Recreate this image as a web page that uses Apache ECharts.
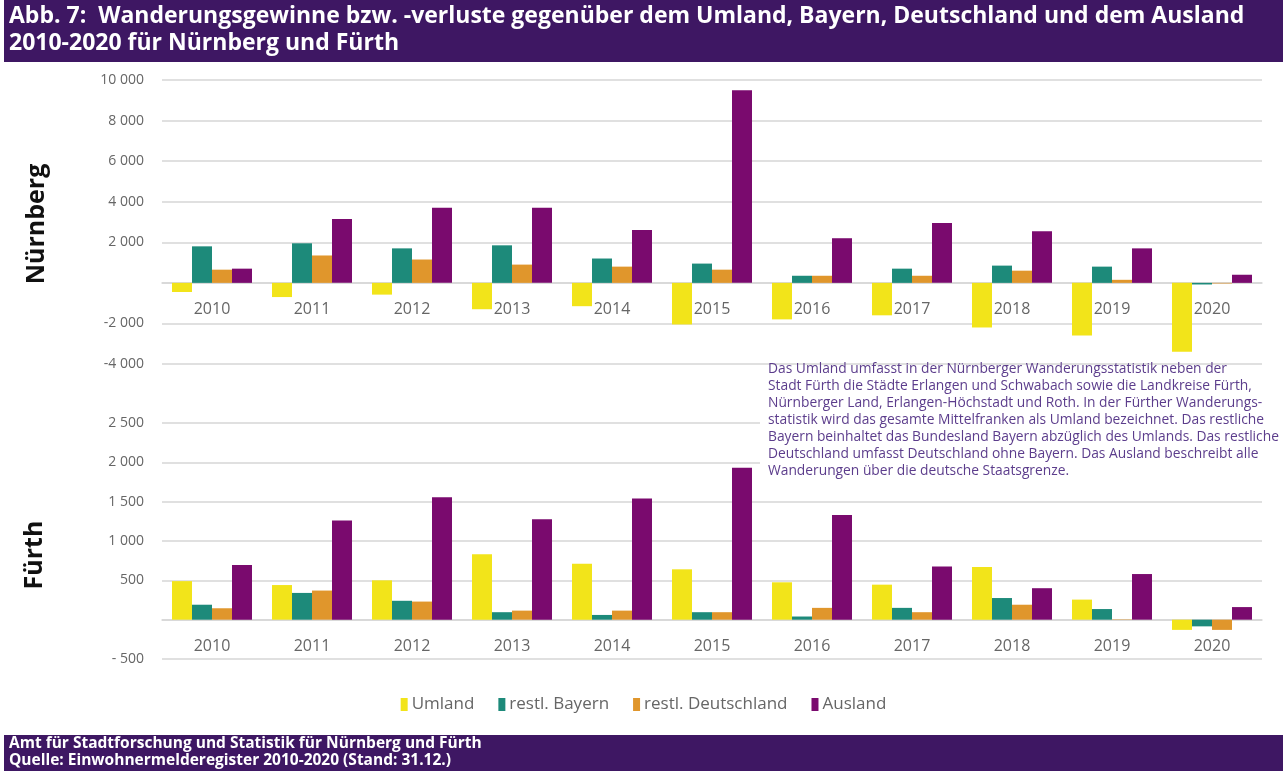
<!DOCTYPE html>
<html>
<head>
    <meta charset="utf-8">
    <title>Wanderungsgewinne</title>
    <style type="text/css">
        html,
        body {
            height: 100%;
        }

        body {
            margin: 0;
            padding: 0;
            background: #fff;
        }

        #main {
            width: 1287px;
            height: 771px;
        }
    </style>
</head>

<body>
    <div id="main"></div>
    <script src="https://cdn.jsdelivr.net/npm/echarts@6/dist/echarts.min.js"></script>
    <script type="text/javascript">
        var years = ['2010', '2011', '2012', '2013', '2014', '2015', '2016', '2017', '2018', '2019', '2020'];
        var seriesNames = ['Umland', 'restl. Bayern', 'restl. Deutschland', 'Ausland'];

        // Nürnberg
        var nbgUmland = [-450, -700, -580, -1300, -1150, -2050, -1800, -1600, -2200, -2600, -3400];
        var nbgBayern = [1800, 1950, 1700, 1850, 1200, 950, 350, 700, 850, 800, -80];
        var nbgDeutschland = [650, 1350, 1150, 900, 800, 650, 350, 350, 600, 150, -30];
        var nbgAusland = [700, 3150, 3700, 3700, 2600, 9500, 2200, 2950, 2550, 1700, 400];

        // Fürth
        var fueUmland = [490, 440, 500, 830, 710, 640, 475, 445, 670, 255, -130];
        var fueBayern = [190, 340, 240, 95, 60, 95, 40, 150, 275, 135, -85];
        var fueDeutschland = [145, 370, 230, 115, 115, 95, 150, 95, 190, 5, -130];
        var fueAusland = [695, 1260, 1555, 1275, 1540, 1930, 1330, 675, 400, 580, 160];

        var colors = ['#f2e41a', '#1d8a7a', '#e0962c', '#7a0a6e'];
        var purpleBar = '#3e1763';
        var note = 'Das Umland umfasst in der Nürnberger Wanderungsstatistik neben der\n' +
            'Stadt Fürth die Städte Erlangen und Schwabach sowie die Landkreise Fürth,\n' +
            'Nürnberger Land, Erlangen-Höchstadt und Roth. In der Fürther Wanderungs-\n' +
            'statistik wird das gesamte Mittelfranken als Umland bezeichnet. Das restliche\n' +
            'Bayern beinhaltet das Bundesland Bayern abzüglich des Umlands. Das restliche\n' +
            'Deutschland umfasst Deutschland ohne Bayern. Das Ausland beschreibt alle\n' +
            'Wanderungen über die deutsche Staatsgrenze.';

        function fmtTop(v) {
            if (v === 0) return '';
            var s = String(Math.abs(v)).replace(/\B(?=(\d{3})+(?!\d))/g, ' ');
            return (v < 0 ? '-' : '') + s;
        }

        function fmtBottom(v) {
            if (v === 0) return '';
            var s = String(Math.abs(v)).replace(/\B(?=(\d{3})+(?!\d))/g, ' ');
            return (v < 0 ? '- ' : '') + s;
        }

        var font = "'Open Sans', 'Noto Sans', sans-serif";
        var gridLine = { lineStyle: { color: '#d6d6d6', width: 1.5 } };

        // grids: top/height in px, axis ranges -> zero position used to lift the category axis
        var topGrid = { top: 80, height: 284, min: -4000, max: 10000 };
        var botGrid = { top: 423, height: 236, min: -500, max: 2500 };

        function zeroOffset(g) {
            return g.height * (-g.min) / (g.max - g.min);
        }

        function xAxis(idx, g) {
            return {
                type: 'category',
                gridIndex: idx,
                data: years,
                offset: -zeroOffset(g),
                axisLine: { onZero: false, lineStyle: { color: '#d6d6d6', width: 1.5 } },
                axisTick: { show: false },
                axisLabel: { color: '#666', fontSize: 16, fontFamily: font, margin: 19 }
            };
        }

        function yAxis(idx, g, step, fmt) {
            return {
                type: 'value',
                gridIndex: idx,
                min: g.min,
                max: g.max,
                interval: step,
                splitLine: gridLine,
                axisLine: { show: false },
                axisTick: { show: false },
                axisLabel: { color: '#666', fontSize: 14, fontFamily: font, margin: 18, formatter: fmt }
            };
        }

        function bars(names, datas, idx) {
            return datas.map(function (d, i) {
                return {
                    name: names[i],
                    type: 'bar',
                    xAxisIndex: idx,
                    yAxisIndex: idx,
                    data: d,
                    barGap: 0,
                    barCategoryGap: '20%',
                    itemStyle: { color: colors[i] }
                };
            });
        }

        var myChart = echarts.init(document.getElementById('main'));
        myChart.setOption({
            animation: false,
            textStyle: { fontFamily: font },
            legend: {
                data: seriesNames,
                left: 'center',
                top: 691,
                itemWidth: 7,
                itemHeight: 13,
                itemGap: 24,
                icon: 'rect',
                textStyle: { color: '#666', fontSize: 17, fontFamily: font, padding: [0, 0, 0, -1] }
            },
            grid: [
                { left: 162, right: 25, top: topGrid.top, height: topGrid.height },
                { left: 162, right: 25, top: botGrid.top, height: botGrid.height }
            ],
            xAxis: [xAxis(0, topGrid), xAxis(1, botGrid)],
            yAxis: [
                yAxis(0, topGrid, 2000, fmtTop),
                yAxis(1, botGrid, 500, fmtBottom)
            ],
            series: bars(seriesNames, [nbgUmland, nbgBayern, nbgDeutschland, nbgAusland], 0)
                .concat(bars(seriesNames, [fueUmland, fueBayern, fueDeutschland, fueAusland], 1)),
            graphic: [
                // header band
                { type: 'rect', left: 4, top: 0, shape: { width: 1279, height: 62 }, style: { fill: purpleBar } },
                {
                    type: 'text', left: 9, top: 3,
                    style: {
                        text: 'Abb. 7:  Wanderungsgewinne bzw. -verluste gegenüber dem Umland, Bayern, Deutschland und dem Ausland\n2010-2020 für Nürnberg und Fürth',
                        fill: '#fff', font: 'bold 23px ' + font, lineHeight: 27
                    }
                },
                // footer band
                { type: 'rect', left: 4, top: 735, shape: { width: 1279, height: 36 }, style: { fill: purpleBar } },
                {
                    type: 'text', left: 9, top: 735,
                    style: {
                        text: 'Amt für Stadtforschung und Statistik für Nürnberg und Fürth\nQuelle: Einwohnermelderegister 2010-2020 (Stand: 31.12.)',
                        fill: '#fff', font: 'bold 15.5px ' + font, lineHeight: 17
                    }
                },
                // city labels
                {
                    type: 'text', x: 37, y: 224, rotation: Math.PI / 2,
                    style: { text: 'Nürnberg', fill: '#111', font: 'bold 25px ' + font, align: 'center', verticalAlign: 'middle' }
                },
                {
                    type: 'text', x: 35, y: 555, rotation: Math.PI / 2,
                    style: { text: 'Fürth', fill: '#111', font: 'bold 25px ' + font, align: 'center', verticalAlign: 'middle' }
                },
                // note box
                { type: 'rect', left: 760, top: 367, z: 100, shape: { width: 527, height: 125 }, style: { fill: '#fff' } },
                {
                    type: 'text', left: 768, top: 361, z: 101,
                    style: { text: note, fill: '#5c3d8c', font: '13.8px ' + font, lineHeight: 17 }
                }
            ]
        });
    </script>
</body>
</html>
